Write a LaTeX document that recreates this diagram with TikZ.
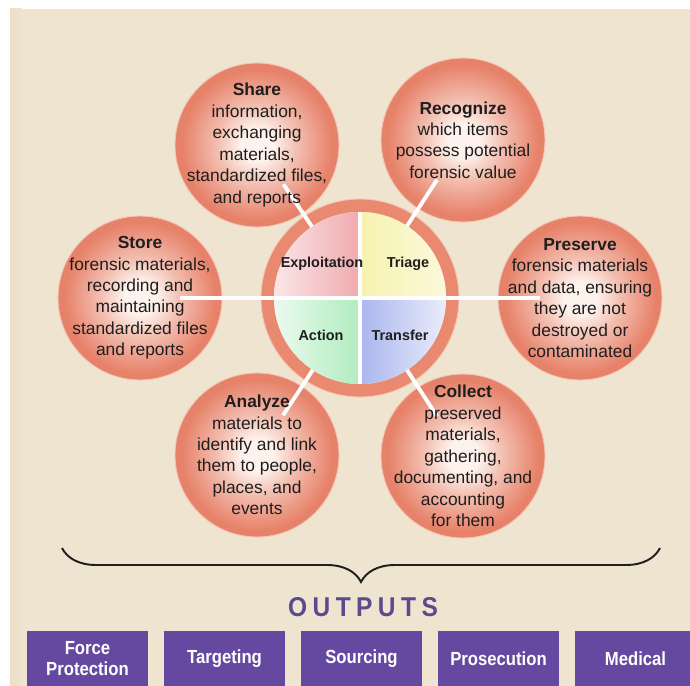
\documentclass[tikz,border=0pt]{standalone}
\usepackage{fontspec}
\setmainfont{Liberation Sans}
\newfontfamily\boxfont[FakeStretch=0.88]{Liberation Sans}
\newfontfamily\outfont[FakeStretch=0.9,LetterSpace=20]{Liberation Sans}
\usetikzlibrary{calc,decorations.pathreplacing}
\definecolor{bg}{RGB}{239,228,207}
\definecolor{petout}{RGB}{231,130,106}
\definecolor{petin}{RGB}{253,242,236}
\definecolor{petrim}{RGB}{244,196,180}
\definecolor{ring}{RGB}{233,138,112}
\definecolor{ink}{RGB}{30,30,30}
\definecolor{pinkq}{RGB}{240,170,175}
\definecolor{yelq}{RGB}{246,242,176}
\definecolor{grnq}{RGB}{176,236,190}
\definecolor{bluq}{RGB}{170,182,238}
\definecolor{purp}{RGB}{101,72,160}
\definecolor{outc}{RGB}{92,74,142}
\colorlet{petmid}{petout!45!petin}
\pgfdeclareradialshading{petshade}{\pgfpoint{0bp}{0bp}}{color(0bp)=(petin); color(5bp)=(petin); color(12bp)=(petmid); color(23bp)=(petout); color(50bp)=(petout)}
\tikzset{pet/.style = {circle, minimum size=3.28cm, inner sep=0pt, draw=petrim, line width=0.5pt,
        shading=petshade},
    ptxt/.style = {align=center, text=ink, inner sep=0pt, font=\fontsize{9.9}{12.2}\selectfont},
    spk/.style = {white, line width=2.2pt},
    qlab/.style = {text=ink, font=\bfseries\fontsize{8.2}{10}\selectfont},
    obox/.style = {fill=purp, text=white, minimum width=2.42cm, minimum height=1.1cm, inner sep=0pt,
        align=center, font=\boxfont\bfseries\fontsize{10.8}{12}\selectfont}}

\begin{document}
\begin{tikzpicture}[x=0.02cm, y=-0.02cm]
        \fill[white] (0,0) rectangle (690,686);
        \useasboundingbox (0,0) rectangle (690,686);
        \fill[bg] (10,9) rectangle (690,686);
        \shade[left color=bg!94!brown, right color=bg] (10,9) rectangle (22,686);

        \foreach \n/\x/\y in {share/257/145, recog/463/140, store/140/298, pres/580/298, anlz/257/455, coll/463/456}
            \node[pet] (\n) at (\x,\y) {};

        \node[circle, minimum size=3.96cm, inner sep=0pt, fill=ring, draw=petrim, line width=0.5pt] (hub) at (360,298) {};
        \node[circle, minimum size=3.44cm, inner sep=0pt, outer sep=0pt, fill=white] (core) at (hub) {};

        \shade[left color=pinkq!30, right color=pinkq] (core.center) -- (core.180) arc[start angle=180, end angle=90, radius=1.72cm] -- cycle;
        \shade[left color=yelq, right color=yelq!45] (core.center) -- (core.90) arc[start angle=90, end angle=0, radius=1.72cm] -- cycle;
        \shade[left color=grnq!25, right color=grnq] (core.center) -- (core.180) arc[start angle=180, end angle=270, radius=1.72cm] -- cycle;
        \shade[left color=bluq, right color=bluq!25] (core.center) -- (core.270) arc[start angle=270, end angle=360, radius=1.72cm] -- cycle;

        \draw[spk] (core.north) -- (core.south);
        \draw[spk] (hub.center) -- ($(store)!0.8cm!(hub)$);
        \draw[spk] (hub.center) -- ($(pres)!0.8cm!(hub)$);
        \foreach \n in {share, recog, anlz, coll}
            \draw[spk, shorten <=1.72cm] (hub.center) -- ($(\n)!0.95cm!(hub)$);

        \node[qlab] (expl) at (322,264) {Exploitation};
        \node[qlab] (tri) at (408,264) {Triage};
        \node[qlab] (act) at (321,335) {Action};
        \node[qlab] (trans) at (400,335) {Transfer};

        \node[ptxt] (share-t) at (share) {\textbf{Share}\\information,\\exchanging\\materials,\\standardized files,\\and reports};
        \node[ptxt] (recog-t) at (recog) {\textbf{Recognize}\\which items\\possess potential\\forensic value};
        \node[ptxt] (store-t) at (store) {\textbf{Store}\\forensic materials,\\recording and\\maintaining\\standardized files\\and reports};
        \node[ptxt] (pres-t) at (pres) {\textbf{Preserve}\\forensic materials\\and data, ensuring\\they are not\\destroyed or\\contaminated};
        \node[ptxt] (anlz-t) at (anlz) {\textbf{Analyze}\\materials to\\identify and link\\them to people,\\places, and\\events};
        \node[ptxt] (coll-t) at (coll) {\textbf{Collect}\\preserved\\materials,\\gathering,\\documenting, and\\accounting\\for them};

        % outputs
        \coordinate (bl) at (62,548);
        \coordinate (br) at (660,548);
        \draw[ink, line width=1.1pt, decorate, decoration={brace, mirror, amplitude=0.68cm}] (bl) -- (br);
        \node[text=outc, font=\outfont\bfseries\fontsize{15.5}{18}\selectfont] (outs) at (363,607) {OUTPUTS};

        \foreach \n/\t [count=\i from 0] in {force/{Force\\Protection}, targ/Targeting, src/Sourcing, pros/Prosecution, med/Medical}
            \node[obox] (\n) at (87.5+137*\i,658.5) {\t};
\end{tikzpicture}
\end{document}
